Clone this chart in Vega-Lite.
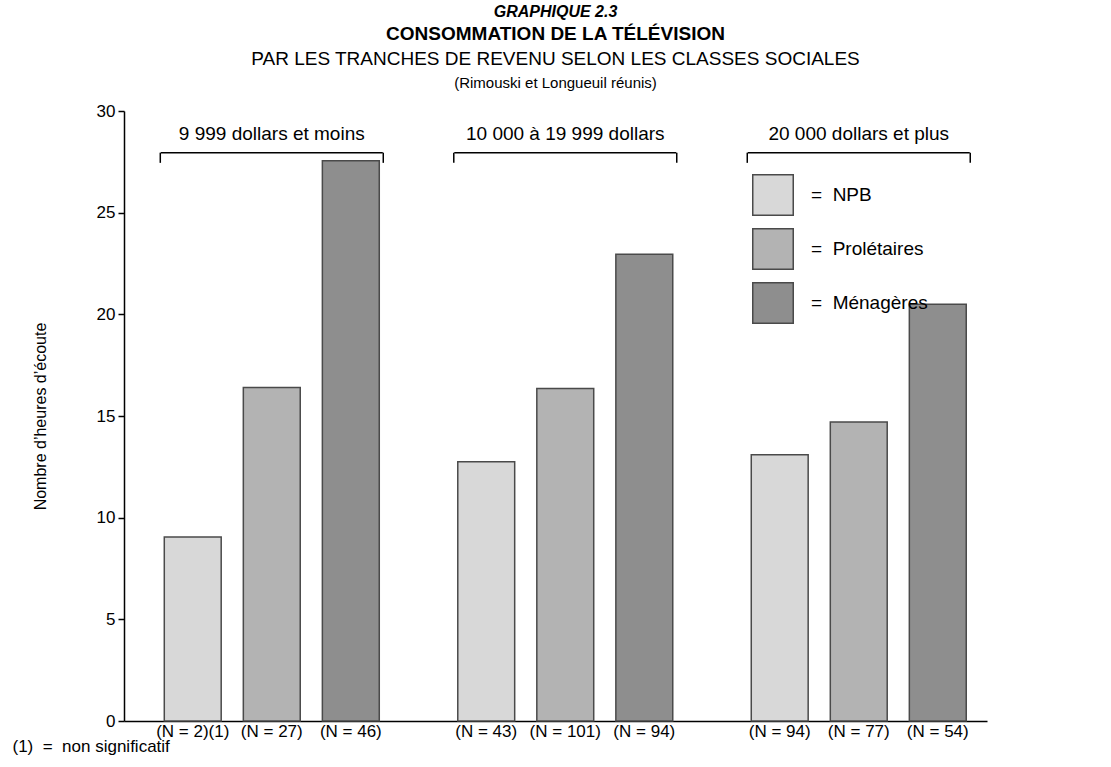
{
  "$schema": "https://vega.github.io/schema/vega-lite/v6.json",
  "background": "white",
  "padding": {"left": 12, "top": 4, "right": 10, "bottom": 5},
  "config": {
    "font": "Liberation Sans",
    "view": {"stroke": null},
    "axis": {"labelColor": "black", "titleColor": "black", "domainColor": "black", "tickColor": "black", "grid": false}
  },
  "title": {
    "text": "GRAPHIQUE 2.3",
    "subtitle": "CONSOMMATION DE LA TÉLÉVISION",
    "anchor": "middle",
    "dx": 56,
    "fontSize": 16,
    "fontStyle": "italic",
    "fontWeight": "bold",
    "color": "black",
    "subtitleFontSize": 19,
    "subtitleFontWeight": "bold",
    "subtitleColor": "black",
    "subtitlePadding": 5,
    "offset": 6
  },
  "datasets": {
    "bars": [
      {"tranche": "9 999 dollars et moins", "classe": "NPB", "heures": 9.05, "n": "(N = 2)(1)"},
      {"tranche": "9 999 dollars et moins", "classe": "Prolétaires", "heures": 16.4, "n": "(N = 27)"},
      {"tranche": "9 999 dollars et moins", "classe": "Ménagères", "heures": 27.55, "n": "(N = 46)"},
      {"tranche": "10 000 à 19 999 dollars", "classe": "NPB", "heures": 12.75, "n": "(N = 43)"},
      {"tranche": "10 000 à 19 999 dollars", "classe": "Prolétaires", "heures": 16.35, "n": "(N = 101)"},
      {"tranche": "10 000 à 19 999 dollars", "classe": "Ménagères", "heures": 22.95, "n": "(N = 94)"},
      {"tranche": "20 000 dollars et plus", "classe": "NPB", "heures": 13.1, "n": "(N = 94)"},
      {"tranche": "20 000 dollars et plus", "classe": "Prolétaires", "heures": 14.7, "n": "(N = 77)"},
      {"tranche": "20 000 dollars et plus", "classe": "Ménagères", "heures": 20.5, "n": "(N = 54)"}
    ],
    "groups": [
      {"tranche": "9 999 dollars et moins"},
      {"tranche": "10 000 à 19 999 dollars"},
      {"tranche": "20 000 dollars et plus"}
    ]
  },
  "vconcat": [
    {
      "width": 863,
      "height": 610,
      "title": {
        "text": "PAR LES TRANCHES DE REVENU SELON LES CLASSES SOCIALES",
        "subtitle": "(Rimouski et Longueuil réunis)",
        "anchor": "middle",
        "frame": "group",
        "fontSize": 19,
        "fontWeight": "normal",
        "color": "black",
        "subtitleFontSize": 15,
        "subtitleColor": "black",
        "subtitlePadding": 7,
        "offset": 11
      },
      "layer": [
        {
          "data": {"name": "bars"},
          "mark": {"type": "bar", "stroke": "#4a4a4a", "strokeWidth": 1.5},
          "encoding": {
            "x": {
              "field": "tranche", "type": "nominal",
              "scale": {"domain": ["9 999 dollars et moins", "10 000 à 19 999 dollars", "20 000 dollars et plus"], "paddingInner": 0.2675, "paddingOuter": 0.104, "align": 0.66},
              "axis": {"labels": false, "ticks": false, "domainWidth": 1.5, "title": "(1)\u00a0\u00a0=\u00a0\u00a0non significatif", "titleAnchor": "start", "titleAlign": "left", "titleX": -112, "titleY": 25, "titleBaseline": "middle", "titleFontSize": 17, "titleFontWeight": "normal"}
            },
            "xOffset": {
              "field": "classe", "type": "nominal",
              "scale": {"domain": ["NPB", "Prolétaires", "Ménagères"], "paddingInner": 0.28, "paddingOuter": 0}
            },
            "y": {
              "field": "heures", "type": "quantitative",
              "scale": {"domain": [0, 30], "nice": false},
              "axis": {"values": [0, 5, 10, 15, 20, 25, 30], "title": "Nombre d’heures d’écoute", "titleFontSize": 16, "titleFontWeight": "normal", "titlePadding": 48, "labelFontSize": 17, "tickSize": 6, "tickWidth": 1.5, "domainWidth": 1.5, "labelPadding": 3}
            },
            "fill": {
              "field": "classe", "type": "nominal",
              "scale": {"domain": ["NPB", "Prolétaires", "Ménagères"], "range": ["#d8d8d8", "#b3b3b3", "#8e8e8e"]},
              "legend": {
                "title": null,
                "orient": "none",
                "legendX": 628,
                "legendY": 63,
                "symbolType": "square",
                "symbolSize": 1640,
                "symbolStrokeColor": "#4a4a4a",
                "symbolStrokeWidth": 1.5,
                "symbolOpacity": 1,
                "labelFontSize": 19,
                "labelColor": "black",
                "labelOffset": 17,
                "rowPadding": 6,
                "labelExpr": "'=\u00a0\u00a0' + datum.label"
              }
            }
          }
        },
        {
          "data": {"name": "bars"},
          "mark": {"type": "text", "baseline": "top", "dy": 3, "fontSize": 17, "color": "black"},
          "encoding": {
            "x": {"field": "tranche", "type": "nominal", "scale": {"domain": ["9 999 dollars et moins", "10 000 à 19 999 dollars", "20 000 dollars et plus"]}},
            "xOffset": {"field": "classe", "type": "nominal", "scale": {"domain": ["NPB", "Prolétaires", "Ménagères"]}},
            "y": {"datum": 0},
            "text": {"field": "n"}
          }
        },
        {
          "data": {"name": "groups"},
          "mark": {"type": "text", "baseline": "middle", "fontSize": 19, "color": "black"},
          "encoding": {
            "x": {"field": "tranche", "type": "nominal", "scale": {"domain": ["9 999 dollars et moins", "10 000 à 19 999 dollars", "20 000 dollars et plus"]}},
            "y": {"datum": 28.87},
            "text": {"field": "tranche"}
          }
        },
        {
          "data": {"name": "groups"},
          "mark": {"type": "tick", "orient": "horizontal", "size": 222, "thickness": 1.5, "color": "black", "opacity": 1},
          "encoding": {
            "x": {"field": "tranche", "type": "nominal", "scale": {"domain": ["9 999 dollars et moins", "10 000 à 19 999 dollars", "20 000 dollars et plus"]}},
            "y": {"datum": 27.95}
          }
        },
        {
          "data": {"name": "groups"},
          "mark": {"type": "rule", "strokeWidth": 1.5, "color": "black", "xOffset": -4},
          "encoding": {
            "x": {"field": "tranche", "type": "nominal", "bandPosition": 0, "scale": {"domain": ["9 999 dollars et moins", "10 000 à 19 999 dollars", "20 000 dollars et plus"]}},
            "y": {"datum": 27.95},
            "y2": {"datum": 27.45}
          }
        },
        {
          "data": {"name": "groups"},
          "mark": {"type": "rule", "strokeWidth": 1.5, "color": "black", "xOffset": 4},
          "encoding": {
            "x": {"field": "tranche", "type": "nominal", "bandPosition": 1, "scale": {"domain": ["9 999 dollars et moins", "10 000 à 19 999 dollars", "20 000 dollars et plus"]}},
            "y": {"datum": 27.95},
            "y2": {"datum": 27.45}
          }
        }
      ]
    }
  ]
}
